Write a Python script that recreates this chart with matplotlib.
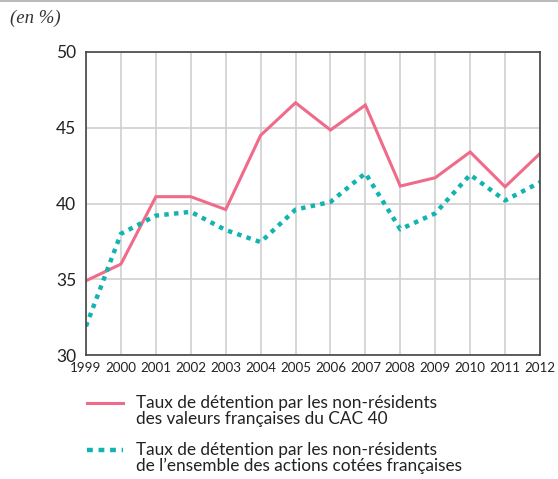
import matplotlib
matplotlib.use("Agg")
import matplotlib.pyplot as plt
from matplotlib.lines import Line2D

years = list(range(1999, 2013))
cac40 = [34.9, 36.0, 40.45, 40.45, 39.6, 44.5, 46.65, 44.85, 46.5, 41.15, 41.7, 43.4, 41.1, 43.3]
ensemble = [31.9, 38.0, 39.2, 39.45, 38.25, 37.45, 39.6, 40.1, 42.0, 38.3, 39.35, 41.9, 40.2, 41.4]
yticks = [30, 35, 40, 45, 50]
labels = ["Taux de détention par les non-résidents\ndes valeurs françaises du CAC 40",
          "Taux de détention par les non-résidents\nde l\u2019ensemble des actions cotées françaises"]

pink = "#f06a8a"
teal = "#12b3b0"
font = "Lato"

fig = plt.figure(figsize=(5.58, 4.79), dpi=100)
ax = fig.add_axes([86/558, 1-355/479, 454/558, 303/479])
ax.plot(years, cac40, color=pink, lw=2.2, solid_joinstyle="miter")
ax.plot(years, ensemble, color=teal, lw=3.2, linestyle=(0, (1.0, 1.2)))
ax.set_xlim(1999, 2012)
ax.set_ylim(30, 50)
ax.set_xticks(years)
ax.set_yticks(yticks)
ax.set_xticklabels([str(y) for y in years], fontfamily=font, fontsize=9.6, color="#222222")
ax.set_yticklabels([str(v) for v in yticks], fontfamily=font, fontsize=12.5, color="#222222")
ax.tick_params(axis="y", length=0, pad=7)
ax.tick_params(axis="x", length=0, pad=5)
ax.grid(True, color="#cfcfcf", lw=1.2)
ax.set_axisbelow(True)
for s in ax.spines.values():
    s.set_color("#444444")
    s.set_linewidth(1.2)

fig.text(10/558, 1-18/479, "(en %)", fontfamily="Liberation Serif", fontstyle="italic",
         fontsize=13.5, color="#333333", va="center", ha="left")
fig.add_artist(Line2D([0, 1], [1-1/479, 1-1/479], color="#bbbbbb", lw=1.5))

# legend
fig.add_artist(Line2D([87/558, 123/558], [1-403/479]*2, color=pink, lw=2.2))
fig.add_artist(Line2D([87/558, 123/558], [1-450/479]*2, color=teal, lw=3.2, linestyle=(0, (1.3, 1.3))))
fig.text(136/558, 1-411/479, labels[0], fontfamily=font, fontsize=12.4, color="#222222",
         va="center", ha="left", linespacing=1.0)
fig.text(136/558, 1-458/479, labels[1], fontfamily=font, fontsize=12.4, color="#222222",
         va="center", ha="left", linespacing=1.0)

fig.savefig("out.png", dpi=100)
